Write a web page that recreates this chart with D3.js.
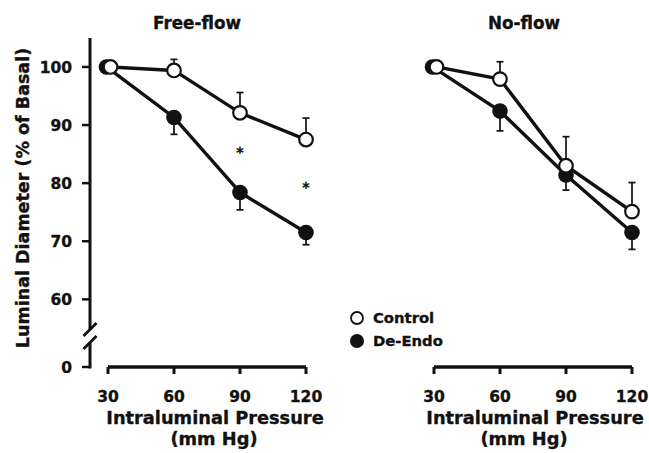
<!DOCTYPE html>
<html>
<head>
<meta charset="utf-8">
<script src="https://cdn.jsdelivr.net/npm/d3@7"></script>
<style>
  body { margin: 0; background: #fff; }
  svg text { font-family: "DejaVu Sans", sans-serif; font-weight: bold; fill: #111; stroke: #111; stroke-width: 0.35px; }
</style>
</head>
<body>
<div id="viz"></div>
<script>

/* luminal diameter vs intraluminal pressure, two panels */

const pressures = [30, 60, 90, 120];        // x categories (mm Hg)
const yTicks = [0, 60, 70, 80, 90, 100];     // y tick values

// free-flow panel
const freeControl = [100, 99.4, 92.1, 87.5];
const freeControlErr = [0, 1.9, 3.5, 3.7];
const freeDeEndo = [100, 91.3, 78.4, 71.5];
const freeDeEndoErr = [0, 2.9, 3.0, 2.1];
const freeStars = [[90, 85.7], [120, 79.6]];   // significance marks

// no-flow panel
const noControl = [100, 97.9, 83.0, 75.1];
const noControlErr = [0, 3.0, 5.0, 5.0];
const noDeEndo = [100, 92.4, 81.4, 71.5];
const noDeEndoErr = [0, 3.4, 2.6, 2.9];

const panelTitles = ["Free-flow", "No-flow"];
const seriesNames = ["Control", "De-Endo"];

const W = 649, H = 453;
const ink = "#111";

const svg = d3.select("#viz").append("svg")
    .attr("width", W).attr("height", H);

// y scale with axis break between 0 and the 60.. range
const y = d3.scaleLinear().domain([0, 53, 105]).range([367, 340, 37.9]);

// x scales, one per panel
const xLeft = d3.scaleLinear().domain([30, 120]).range([108, 306]);
const xRight = d3.scaleLinear().domain([30, 120]).range([434, 632]);

const axisY = 90;   // y axis position (left panel only)
const baseY = y(0); // x axis baseline

// text helper
function label(g, x, yy, txt, size, anchor, rot){
    let t = g.append("text")
        .attr("transform", `translate(${x},${yy})` + (rot ? ` rotate(${rot})` : ""))
        .attr("text-anchor", anchor || "middle")
        .style("font-size", size + "px")
        .text(txt);
    return t;
}

// draw one panel; off = horizontal shifts of title / axis title lines
function panel(x, title, ctrl, ctrlErr, de, deErr, stars, off){

    let g = svg.append("g");
    let mid = (x(30) + x(120)) / 2;

    // title
    label(g, mid + off[0], 29, title, 16.8);

    // x axis: bar with downward ticks
    g.append("line")
        .attr("x1", x(30)).attr("x2", x(120))
        .attr("y1", baseY).attr("y2", baseY)
        .attr("stroke", ink).attr("stroke-width", 3.5);
    g.selectAll(".xt").data(pressures).enter().append("line")
        .attr("x1", d => x(d)).attr("x2", d => x(d))
        .attr("y1", baseY).attr("y2", baseY + 7)
        .attr("stroke", ink).attr("stroke-width", 3);
    g.selectAll(".xl").data(pressures).enter().append("text")
        .attr("x", d => x(d)).attr("y", baseY + 35)
        .attr("text-anchor", "middle")
        .style("font-size", "15.5px")
        .text(d => d);

    // x axis title
    label(g, mid + off[1], 424, "Intraluminal Pressure", 17.8);
    label(g, mid + off[2], 445, "(mm Hg)", 17.8);

    // series: lines, error bars, points
    let series = [
        { v: de, e: deErr, dir: 1, fill: ink, dx: -1.5 },
        { v: ctrl, e: ctrlErr, dir: -1, fill: "#fff", dx: 2.5 }
    ];

    series.forEach(s => {
        let line = d3.line()
            .x((d, i) => x(pressures[i]) + (i === 0 ? s.dx : 0))
            .y(d => y(d));
        g.append("path")
            .datum(s.v)
            .attr("d", line)
            .attr("fill", "none")
            .attr("stroke", ink).attr("stroke-width", 3.4);
    });

    series.forEach(s => {
        let eb = s.v.map((d, i) => ({ p: pressures[i], v: d, e: s.e[i] })).filter(d => d.e > 0);
        g.selectAll(null).data(eb).enter().append("line")
            .attr("x1", d => x(d.p)).attr("x2", d => x(d.p))
            .attr("y1", d => y(d.v)).attr("y2", d => y(d.v - s.dir * d.e))
            .attr("stroke", ink).attr("stroke-width", 1.7);
        g.selectAll(null).data(eb).enter().append("line")
            .attr("x1", d => x(d.p) - 3.5).attr("x2", d => x(d.p) + 3.5)
            .attr("y1", d => y(d.v - s.dir * d.e)).attr("y2", d => y(d.v - s.dir * d.e))
            .attr("stroke", ink).attr("stroke-width", 1.7);
    });

    series.forEach(s => {
        g.selectAll(null).data(s.v).enter().append("circle")
            .attr("cx", (d, i) => x(pressures[i]) + (i === 0 ? s.dx : 0))
            .attr("cy", d => y(d))
            .attr("r", s.fill === ink ? 7.8 : 6.8)
            .attr("fill", s.fill)
            .attr("stroke", ink).attr("stroke-width", s.fill === ink ? 0 : 2.2);
    });

    // significance marks
    g.selectAll(null).data(stars || []).enter().append("text")
        .attr("x", d => x(d[0])).attr("y", d => y(d[1]) + 7)
        .attr("text-anchor", "middle")
        .style("font-size", "14px")
        .text("*");

    return g;
}

panel(xLeft, panelTitles[0], freeControl, freeControlErr, freeDeEndo, freeDeEndoErr, freeStars, [-10, 8, 7]);
panel(xRight, panelTitles[1], noControl, noControlErr, noDeEndo, noDeEndoErr, null, [-9, 2, -9]);

// y axis (left panel) with break
let ya = svg.append("g");
ya.append("line")
    .attr("x1", axisY).attr("x2", axisY)
    .attr("y1", y(105)).attr("y2", y(54.8))
    .attr("stroke", ink).attr("stroke-width", 3);
ya.append("line")
    .attr("x1", axisY).attr("x2", axisY)
    .attr("y1", y(54.8) + 13).attr("y2", y(0) + 1.5)
    .attr("stroke", ink).attr("stroke-width", 3);
[y(54.8), y(54.8) + 13].forEach(cy => {
    ya.append("line")
        .attr("x1", axisY - 6.5).attr("x2", axisY + 6.5)
        .attr("y1", cy + 6.5).attr("y2", cy - 6.5)
        .attr("stroke", ink).attr("stroke-width", 2.8);
});
ya.selectAll(".yt").data(yTicks).enter().append("line")
    .attr("x1", axisY - 8).attr("x2", axisY)
    .attr("y1", d => y(d)).attr("y2", d => y(d))
    .attr("stroke", ink).attr("stroke-width", 2.5);
ya.selectAll(".yl").data(yTicks).enter().append("text")
    .attr("x", 72).attr("y", d => y(d) + 6)
    .attr("text-anchor", "end")
    .style("font-size", "15.5px")
    .text(d => d);

label(ya, 29, 198, "Luminal Diameter (% of Basal)", 17.5, "middle", -90);

// legend
let lg = svg.append("g");
lg.selectAll("circle").data(seriesNames).enter().append("circle")
    .attr("cx", 357).attr("cy", (d, i) => 318 + i * 23)
    .attr("r", (d, i) => i ? 7 : 6)
    .attr("fill", (d, i) => i ? ink : "#fff")
    .attr("stroke", ink).attr("stroke-width", (d, i) => i ? 0 : 1.8);
lg.selectAll("text").data(seriesNames).enter().append("text")
    .attr("x", 373).attr("y", (d, i) => 323 + i * 23)
    .style("font-size", "14.8px")
    .text(d => d);

</script>
</body>
</html>
